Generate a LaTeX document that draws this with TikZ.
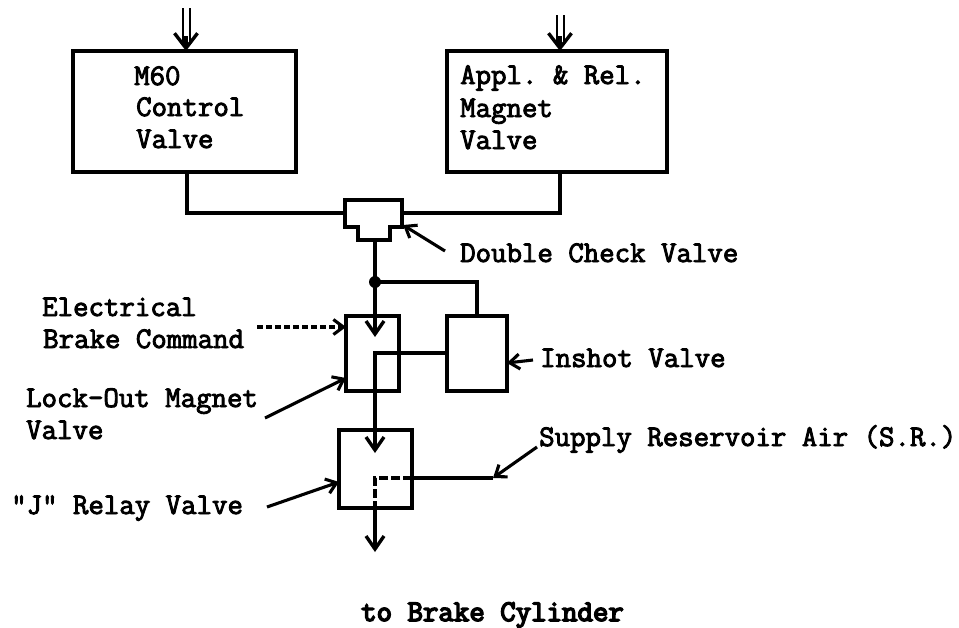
\documentclass[tikz,border=0pt]{standalone}
\usepackage{fontspec}
\setmonofont{Latin Modern Mono}[FakeBold=3]
\newfontfamily\heavytt{Latin Modern Mono}[FakeBold=5]
\usetikzlibrary{arrows.meta}
\tikzset{
  vbox/.style={draw,line width=3.4pt,rectangle,inner sep=0pt,outer sep=0pt,anchor=north west},
  lbl/.style={anchor=base west,inner sep=0pt,font=\ttfamily\fontsize{30}{32}\selectfont},
  pipe/.style={line width=3.4pt},
  barb/.style={-{Straight Barb[length=13pt,width=18pt,line width=3.4pt]}},
  bigbarb/.style={-{Straight Barb[length=15pt,width=23pt,line width=3.4pt]}},
  lead/.style={line width=3.1pt,-{Straight Barb[length=10pt,width=15pt,line width=3.1pt]}}
}
\begin{document}
\begin{tikzpicture}[x=1pt,y=-1pt]
\useasboundingbox (0,0) rectangle (959,627);
% boxes
\node[vbox,minimum width=223pt,minimum height=121pt] (m60) at (73,51) {};
\node[vbox,minimum width=220pt,minimum height=121pt] (appl) at (447,51) {};
\node[vbox,minimum width=53pt,minimum height=75pt] (lock) at (346,316) {};
\node[vbox,minimum width=60pt,minimum height=75pt] (inshot) at (447,316) {};
\node[vbox,minimum width=73pt,minimum height=78pt] (relay) at (339,430) {};
% double check valve
\draw[pipe,line join=miter] (345,200) -- (402,200) -- (402,227) -- (390,227) -- (390,240) -- (358,240) -- (358,227) -- (345,227) -- cycle;
\coordinate (dcvL) at (345,213);
\coordinate (dcvR) at (402,213);
\coordinate (dcvB) at (375,240);
\coordinate (dcvC) at (403,225);
\coordinate (junc) at (375,282);
\fill (junc) circle (6pt);
% free ends
\coordinate (lockin) at (375,337);
\coordinate (lockbend) at (375,353);
\coordinate (relayin) at (375,453);
\coordinate (relaybend) at (375,478);
\coordinate (srdot) at (493,478);
\coordinate (out) at (375,552);
% input double arrows
\draw[line width=3.1pt,bigbarb] (186,36) -- (186,51);
\draw[line width=2.6pt] (183,8) -- (183,44) (190,8) -- (190,44);
\draw[line width=3.1pt,bigbarb] (560,36) -- (560,51);
\draw[line width=2.6pt] (557,15) -- (557,44) (564,15) -- (564,44);
% pipe lines
\draw[pipe] (187,172) |- (dcvL);
\draw[pipe] (560,172) |- (dcvR);
\draw[pipe] (dcvB) -- (junc);
\draw[pipe] (junc) -| (inshot.north);
\draw[pipe,barb] (junc) -- (lockin);
\draw[pipe] (inshot.west |- lockbend) -- (lockbend) -- (lock.south -| lockbend);
\draw[pipe,barb] (lock.south -| lockbend) -- (relayin);
\draw[pipe] (relay.east |- relaybend) -- (srdot);
\draw[pipe,dash pattern=on 9pt off 3pt] (relay.east |- relaybend) -- (relaybend) -- (relay.south -| relaybend);
\draw[pipe,barb] (relay.south -| relaybend) -- (out);
% box text
\node[lbl] (t1) at (134,85) {M60};
\node[lbl] (t2) at (136,116) {Control};
\node[lbl] (t3) at (136,148) {Valve};
\node[lbl] (t4) at (460,84) {Appl. \& Rel.};
\node[lbl] (t5) at (460,117) {Magnet};
\node[lbl] (t6) at (460,149) {Valve};
% outside labels
\node[lbl] (dcl) at (460,262) {Double Check Valve};
\node[lbl] (ebc1) at (42,316) {Electrical};
\node[lbl] (ebc2) at (43,348) {Brake Command};
\node[lbl] (lo1) at (26,407) {Lock-Out Magnet};
\node[lbl] (lo2) at (26,439) {Valve};
\node[lbl] (isl) at (540,367) {Inshot Valve};
\node[lbl] (sr) at (539,446) {Supply Reservoir Air (S.R.)};
\node[lbl] (jr) at (11,514) {\symbol{34}J\symbol{34} Relay Valve};
\node[lbl,font=\heavytt\fontsize{30}{32}\selectfont] (tb) at (361,621) {to Brake Cylinder};
% leaders
\draw[lead] (445,251) -- (dcvC);
\draw[lead,dash pattern=on 6pt off 3pt] (257,327) -- (lock.west |- 0,327);
\draw[lead] (265,418) -- (lock.west |- 0,378);
\draw[lead] (533,360) -- (inshot.east |- 0,363);
\draw[lead] (537,447) -- (srdot);
\draw[lead] (267,507) -- (relay.west |- 0,482);
\end{tikzpicture}
\end{document}
